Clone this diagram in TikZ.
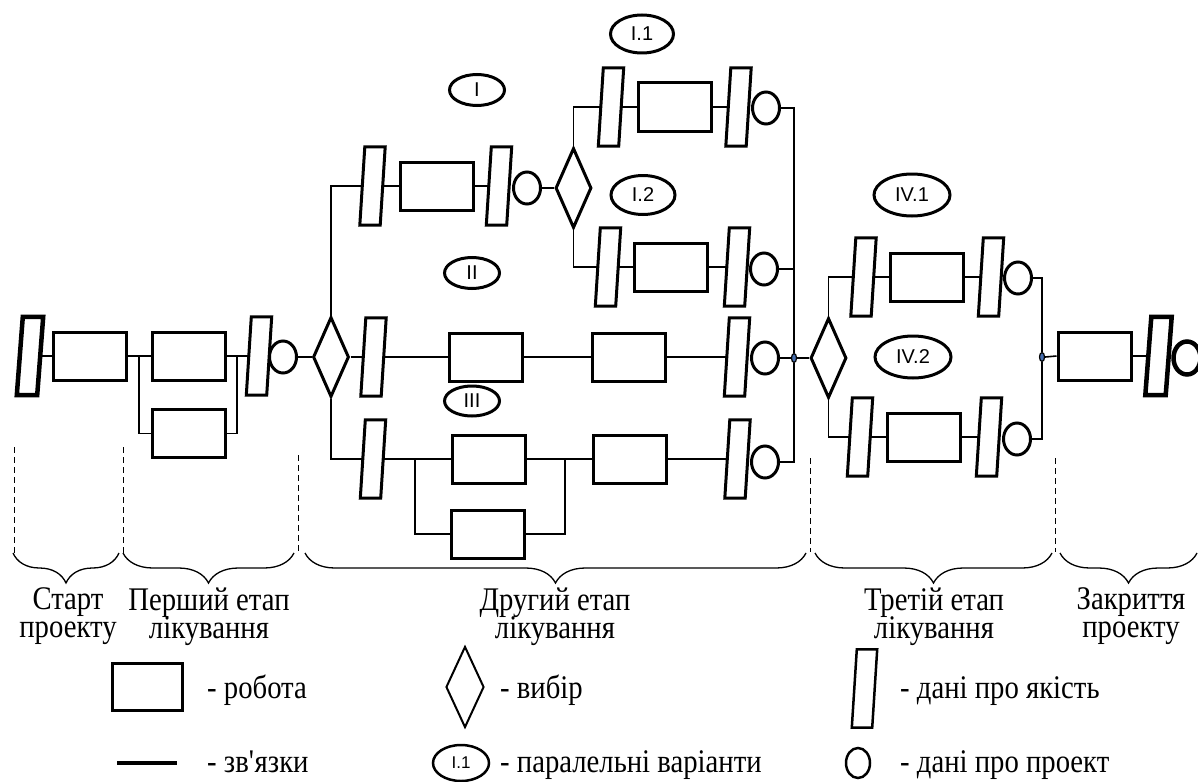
\documentclass[tikz,border=0pt]{standalone}
\usepackage{fontspec}
\setmainfont{Liberation Serif}[FakeStretch=0.87]
\newfontfamily\tagfont{Liberation Sans}
\usetikzlibrary{shapes.geometric,decorations.pathreplacing}
\definecolor{dotblue}{RGB}{70,110,175}

\begin{document}
\begin{tikzpicture}[x=1pt,y=-1pt,
  link/.style={line width=1.6pt},
  work/.style={draw, rectangle, line width=3pt, minimum width=73pt, minimum height=48pt, inner sep=0pt},
  qual/.style={rectangle, minimum width=20pt, minimum height=78pt, inner sep=0pt},
  qualline/.style={line width=3pt, line join=miter},
  pdat/.style={draw, ellipse, line width=3pt, minimum width=27pt, minimum height=32pt, inner sep=0pt},
  choice/.style={draw, diamond, line width=3pt, minimum width=36pt, minimum height=80pt, inner sep=0pt},
  tag/.style={draw, ellipse, line width=3pt, inner sep=0pt, font={\tagfont\fontsize{20}{20}\selectfont}},
  joint/.style={draw, ellipse, fill=dotblue, line width=1.2pt, minimum width=5pt, minimum height=9pt, inner sep=0pt},
  stage/.style={font={\fontsize{33}{28}\selectfont\lineskiplimit=-40pt}, inner sep=0pt, align=center, anchor=center},
  legtext/.style={font={\fontsize{33}{29}\selectfont}, inner sep=0pt, anchor=base west},
  phase/.style={dashed, dash pattern=on 6pt off 4pt, line width=1pt},
  stagebrace/.style={decorate, decoration={brace, mirror, amplitude=30pt}, line width=1.3pt}
]
\useasboundingbox (0,0) rectangle (1198,781);

% ---------- start of the project and first stage ----------
\node[qual] (qs) at (30,356) {};
\node[work] (w1) at (89.5,356) {};
\node[work] (w2a) at (188.5,356) {};
\node[work] (w2b) at (188.5,433.5) {};
\node[qual] (q2) at (259,356) {};
\node[pdat] (c1) at (283,357) {};
\node[choice] (d0) at (331,357) {};
\coordinate (ja) at (139,356);
\coordinate (jb) at (237,356);

\draw[link] (qs.east) -- (w1.west);
\draw[link] (w1.east) -- (w2a.west);
\draw[link] (ja) |- (w2b.west);
\draw[link] (w2b.east) -| (jb);
\draw[link] (w2a.east) -- (q2.west);
\draw[link] (c1.east) -- (d0.west);

% ---------- variant I ----------
\node[qual] (qIa) at (372.5,186) {};
\node[work] (wIa) at (437,186) {};
\node[qual] (qIb) at (499,186) {};
\node[pdat] (cIb) at (527,188) {};
\node[choice] (dI) at (573.5,188) {};
\node[tag, minimum width=55pt, minimum height=31pt] (eI) at (477,90) {I};

\draw[link] (d0.north) |- (qIa.west);
\draw[link] (qIa.east) -- (wIa.west);
\draw[link] (wIa.east) -- (qIb.west);
\draw[link] (cIb.east) -- (dI.west);

% variant I.1
\node[qual] (qI1a) at (611,107) {};
\node[work] (wI1) at (675,107) {};
\node[qual] (qI1b) at (738.5,107) {};
\node[pdat] (cI1) at (766,108) {};
\node[tag, minimum width=63pt, minimum height=38pt] (eI1) at (642,34) {I.1};

\draw[link] (dI.north) |- (qI1a.west);
\draw[link] (qI1a.east) -- (wI1.west);
\draw[link] (wI1.east) -- (qI1b.west);

% variant I.2
\node[qual] (qI2a) at (608,267) {};
\node[work] (wI2) at (670.5,267) {};
\node[qual] (qI2b) at (737,267) {};
\node[pdat] (cI2) at (764,269) {};
\node[tag, minimum width=64pt, minimum height=39pt] (eI2) at (643,195) {I.2};

\draw[link] (dI.south) |- (qI2a.west);
\draw[link] (qI2a.east) -- (wI2.west);
\draw[link] (wI2.east) -- (qI2b.west);

% ---------- variant II ----------
\node[qual] (qII1) at (373.5,357) {};
\node[work] (wII1) at (486,357) {};
\node[work] (wII2) at (629,357) {};
\node[qual] (qII2) at (737,357) {};
\node[pdat] (cII) at (765,358) {};
\node[tag, minimum width=55pt, minimum height=31pt] (eII) at (472,273) {II};

\draw[link] (d0.east) -- (qII1.west);
\draw[link] (qII1.east) -- (wII1.west);
\draw[link] (wII1.east) -- (wII2.west);
\draw[link] (wII2.east) -- (qII2.west);

% ---------- variant III ----------
\node[qual] (qIII1) at (373,459) {};
\node[work] (wIII1) at (489,459) {};
\node[work] (wIII2) at (487.5,534) {};
\node[work] (wIII3) at (630,459) {};
\node[qual] (qIII2) at (737.5,459) {};
\node[pdat] (cIII) at (765,462) {};
\node[tag, minimum width=55pt, minimum height=30pt] (eIII) at (472,401) {III};
\coordinate (jc) at (415,459);
\coordinate (jd) at (565,459);

\draw[link] (d0.south) |- (qIII1.west);
\draw[link] (qIII1.east) -- (wIII1.west);
\draw[link] (jc) |- (wIII2.west);
\draw[link] (wIII2.east) -| (jd);
\draw[link] (wIII1.east) -- (wIII3.west);
\draw[link] (wIII3.east) -- (qIII2.west);

% ---------- merge of the second stage ----------
\node[joint] (dot1) at (794,358) {};
\coordinate (busT) at (794,108);
\coordinate (busB) at (794,462);
\draw[link] (cI1.east) -- (busT) -- (dot1.north);
\draw[link] (dot1.south) -- (busB) -- (cIII.east);
\draw[link] (cI2.east) -- (cI2.east -| busT);
\draw[link] (cII.east) -- (dot1.west);

% ---------- third stage ----------
\node[choice] (d4) at (828.5,358) {};
\node[qual] (qIV1a) at (863.5,277) {};
\node[work] (wIV1) at (926.5,277) {};
\node[qual] (qIV1b) at (991,277) {};
\node[pdat] (cIV1) at (1018,278) {};
\node[tag, minimum width=76pt, minimum height=42pt] (eIV1) at (912,195) {IV.1};

\node[qual] (qIV2a) at (860,437) {};
\node[work] (wIV2) at (923.5,437) {};
\node[qual] (qIV2b) at (989,437) {};
\node[pdat] (cIV2) at (1017,439) {};
\node[tag, minimum width=76pt, minimum height=42pt] (eIV2) at (913,357) {IV.2};

\node[joint] (dot2) at (1042,357) {};
\coordinate (bus2T) at (1042,278);
\coordinate (bus2B) at (1042,439);

\draw[link] (dot1.east) -- (d4.west);
\draw[link] (d4.north) |- (qIV1a.west);
\draw[link] (qIV1a.east) -- (wIV1.west);
\draw[link] (wIV1.east) -- (qIV1b.west);
\draw[link] (d4.south) |- (qIV2a.west);
\draw[link] (qIV2a.east) -- (wIV2.west);
\draw[link] (wIV2.east) -- (qIV2b.west);
\draw[link] (cIV1.east) -- (bus2T) -- (dot2.north);
\draw[link] (dot2.south) -- (bus2B) -- (cIV2.east);

% ---------- closing of the project ----------
\node[work] (wE) at (1094.5,356) {};
\node[qual] (qE) at (1158.5,356) {};
\node[pdat, line width=4.5pt, minimum width=27pt, minimum height=33pt] (cE) at (1187,358) {};
\draw[link] (dot2.east) -- (wE.west);
\draw[link] (wE.east) -- (qE.west);

% ---------- quality data blocks (slanted) ----------
\foreach \n in {q2,qIa,qIb,qI1a,qI1b,qI2a,qI2b,qII1,qII2,qIII1,qIII2,qIV1a,qIV1b,qIV2a,qIV2b}
  \draw[qualline] ([xshift=2.5pt]\n.north west) -- ([xshift=2.5pt]\n.north east)
    -- ([xshift=-2.5pt]\n.south east) -- ([xshift=-2.5pt]\n.south west) -- cycle;
\foreach \n in {qs,qE}
  \draw[qualline, line width=4.5pt] ([xshift=3pt]\n.north west) -- ([xshift=3pt]\n.north east)
    -- ([xshift=-3pt]\n.south east) -- ([xshift=-3pt]\n.south west) -- cycle;

% ---------- stage boundaries ----------
\draw[phase] (14,447) -- (14,555);
\draw[phase] (123,447) -- (123,555);
\draw[phase] (298,455) -- (298,552);
\draw[phase] (810,458) -- (810,552);
\draw[phase] (1055,458) -- (1055,552);

\draw[stagebrace] (13,553) -- (119,553);
\draw[stagebrace] (123,553) -- (294,553);
\draw[stagebrace] (305,553) -- (806,553);
\draw[stagebrace] (815,553) -- (1052,553);
\draw[stagebrace] (1060,553) -- (1197,553);

\node[stage] (s1) at (68,616.5) {Старт\\проекту};
\node[stage] (s2) at (209,616.5) {Перший етап\\лікування};
\node[stage] (s3) at (555,616.5) {Другий етап\\лікування};
\node[stage] (s4) at (934,616.5) {Третій етап\\лікування};
\node[stage] (s5) at (1131,616.5) {Закриття\\проекту};

% ---------- legend ----------
\node[work, minimum width=70pt, minimum height=47pt] (lgWork) at (147.5,687) {};
\node[legtext] (lgWorkT) at (207,698) {- робота};
\coordinate (lgL1) at (117,763);
\coordinate (lgL2) at (177,763);
\draw[line width=4pt] (lgL1) -- (lgL2);
\node[legtext] (lgLinkT) at (207,772) {- зв\textquotesingle язки};

\node[choice, line width=2pt, minimum width=38pt, minimum height=81pt] (lgChoice) at (465,687) {};
\node[legtext] (lgChoiceT) at (500,698) {- вибір};
\node[tag, line width=2.5pt, minimum width=56pt, minimum height=36pt, font={\tagfont\fontsize{17}{17}\selectfont}] (lgTag) at (461,763) {I.1};
\node[legtext] (lgTagT) at (500,772) {- паралельні варіанти};

\node[qual] (lgQual) at (864.5,688.5) {};
\draw[qualline, line width=2.5pt] ([xshift=2.5pt]lgQual.north west) -- ([xshift=2.5pt]lgQual.north east)
  -- ([xshift=-2.5pt]lgQual.south east) -- ([xshift=-2.5pt]lgQual.south west) -- cycle;
\node[legtext] (lgQualT) at (900,698) {- дані про якість};
\node[pdat, line width=2.5pt, minimum width=24pt, minimum height=30pt] (lgData) at (858,763) {};
\node[legtext] (lgDataT) at (900,772) {- дані про проект};
\end{tikzpicture}
\end{document}
